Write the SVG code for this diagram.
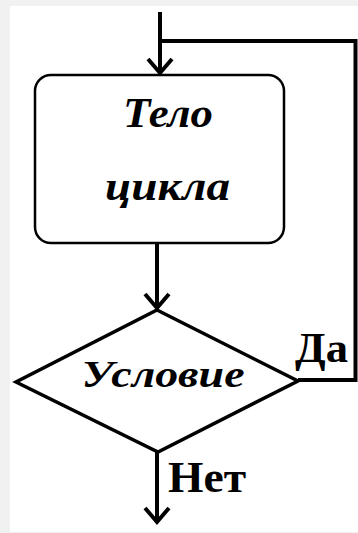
<svg xmlns="http://www.w3.org/2000/svg" width="358" height="533" viewBox="0 0 358 533">
<defs>
<marker id="chev" markerUnits="userSpaceOnUse" markerWidth="30" markerHeight="30" refX="0" refY="0" orient="auto" overflow="visible">
<path d="M -15,-12 L -1,0 L -15,12" fill="none" stroke="#000" stroke-width="4"/>
</marker>
<style>
.line{fill:none;stroke:#000;stroke-width:4;}
.shape{fill:none;stroke:#000;}
.lbl{font-family:"Liberation Serif","Times New Roman",serif;font-weight:bold;font-style:italic;fill:#000;text-anchor:middle;}
.yn{font-family:"Liberation Serif","Times New Roman",serif;font-weight:bold;fill:#000;}
</style>
</defs>
<rect x="0" y="0" width="358" height="533" fill="#f1f1f1"/>
<rect x="10" y="6" width="348" height="526" fill="#ffffff"/>
<g id="connectors">
<path class="line" d="M160,12 L160,74" marker-end="url(#chev)"/>
<path class="line" d="M298,380 L355.5,380 L355.5,41 L160,41"/>
<path class="line" d="M157,244 L157,309" marker-end="url(#chev)"/>
<path class="line" d="M157,452 L157,523" marker-end="url(#chev)"/>
</g>
<g id="body">
<rect class="shape" x="35" y="75" width="249" height="168" rx="16" stroke-width="2.5"/>
<text class="lbl" x="168" y="127" font-size="42" textLength="90" lengthAdjust="spacingAndGlyphs">Тело</text>
<text class="lbl" x="167.5" y="200" font-size="42" textLength="125" lengthAdjust="spacingAndGlyphs">цикла</text>
</g>
<g id="condition">
<polygon class="shape" points="157,310 298,381 158,452 16,382" stroke-width="3.5"/>
<text class="lbl" x="163" y="387" font-size="37" textLength="163" lengthAdjust="spacingAndGlyphs">Условие</text>
</g>
<g id="labels">
<text class="yn" x="295" y="362" font-size="42" textLength="53" lengthAdjust="spacingAndGlyphs">Да</text>
<text class="yn" x="168" y="492" font-size="44" textLength="78" lengthAdjust="spacingAndGlyphs">Нет</text>
</g>
</svg>
